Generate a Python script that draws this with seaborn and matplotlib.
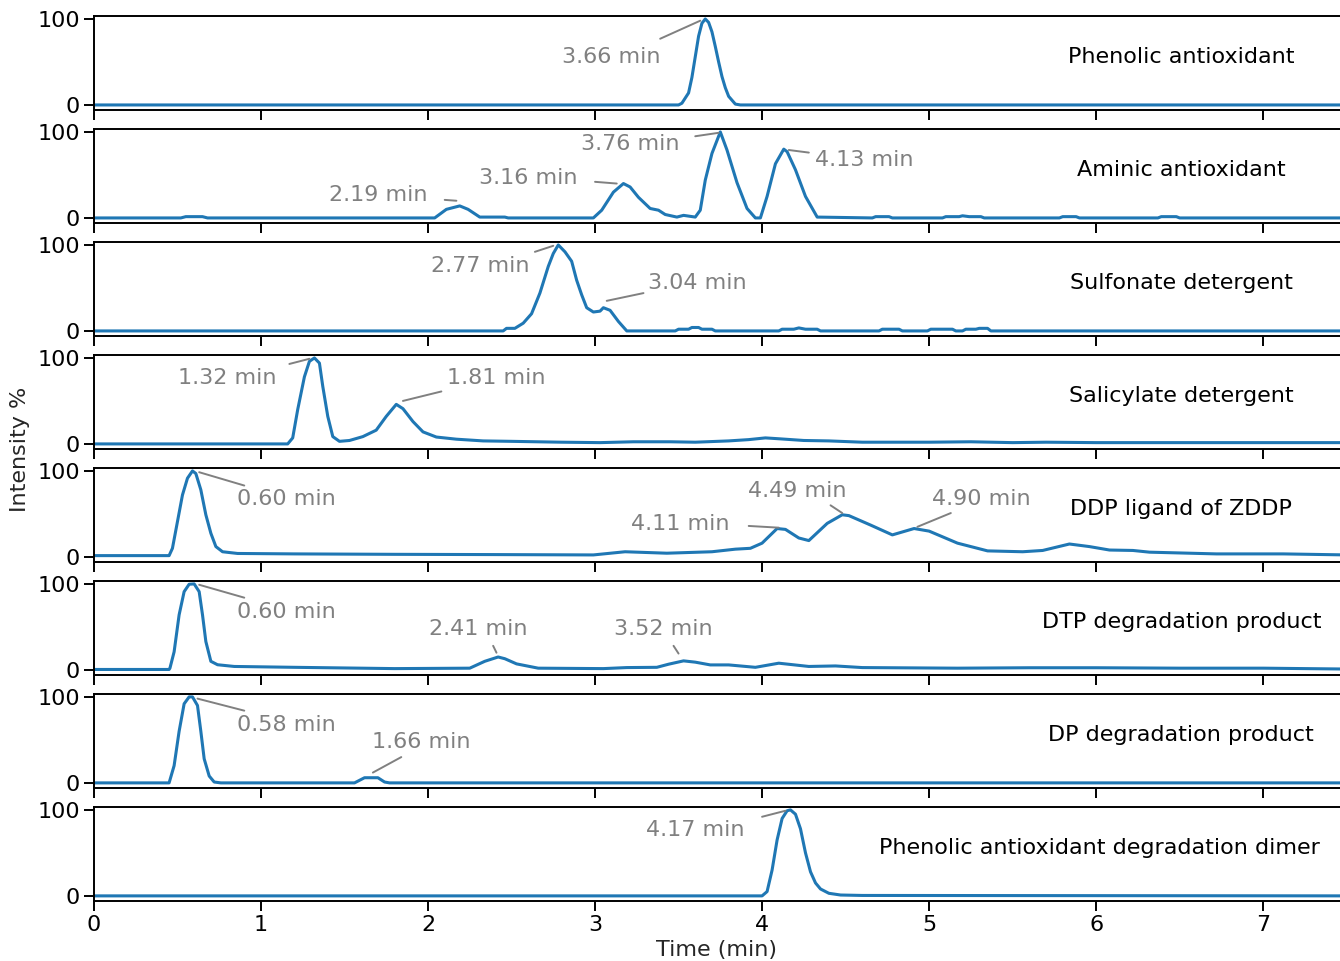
import matplotlib
matplotlib.use('Agg')
import matplotlib.pyplot as plt
import seaborn as sns
import pandas as pd

# compound names, one panel each
names = ['Phenolic antioxidant', 'Aminic antioxidant', 'Sulfonate detergent',
         'Salicylate detergent', 'DDP ligand of ZDDP', 'DTP degradation product',
         'DP degradation product', 'Phenolic antioxidant degradation dimer']

# chromatograms: time (min) and relative intensity (%)
t_phenolic = [0, 3.50, 3.52, 3.56, 3.58, 3.60, 3.62, 3.64, 3.66, 3.68, 3.70, 3.72, 3.74, 3.76,
              3.78, 3.80, 3.84, 3.87, 7.5]
i_phenolic = [0, 0, 2, 14, 32, 56, 80, 95, 100, 96, 85, 68, 50, 33,
              20, 10, 1, 0, 0]

t_aminic = [0, 0.52, 0.55, 0.65, 0.68, 2.04, 2.11, 2.19, 2.24, 2.31, 2.46, 2.48, 2.99, 3.04,
            3.11, 3.17, 3.21, 3.26, 3.33, 3.38, 3.42, 3.49, 3.53, 3.60, 3.63, 3.66, 3.70, 3.75,
            3.79, 3.85, 3.91, 3.96, 3.99, 4.03, 4.08, 4.13, 4.15, 4.20, 4.26, 4.33, 4.66, 4.68,
            4.76, 4.78, 5.08, 5.10, 5.18, 5.20, 5.24, 5.31, 5.33, 5.78, 5.80, 5.88, 5.90, 6.37,
            6.39, 6.48, 6.50, 7.5]
i_aminic = [0, 0, 1.5, 1.5, 0, 0, 10, 14, 10, 1, 1, 0, 0, 9,
            30, 40, 36, 24, 11, 9, 4, 1, 3, 1, 9, 44, 75, 100,
            79, 41, 11, 0, 0, 25, 63, 80, 77, 56, 25, 1, 0, 1.5,
            1.5, 0, 0, 1.5, 1.5, 2.5, 1.5, 1.5, 0, 0, 1.5, 1.5, 0, 0,
            1.5, 1.5, 0, 0]

t_sulfonate = [0, 2.45, 2.47, 2.52, 2.57, 2.62, 2.67, 2.72, 2.75, 2.78, 2.82, 2.86, 2.89, 2.92,
               2.95, 2.99, 3.03, 3.05, 3.09, 3.14, 3.19, 3.48, 3.50, 3.56, 3.58, 3.62, 3.64, 3.70,
               3.72, 4.10, 4.12, 4.19, 4.22, 4.26, 4.33, 4.35, 4.70, 4.72, 4.82, 4.84, 4.99, 5.01,
               5.14, 5.16, 5.20, 5.22, 5.28, 5.30, 5.35, 5.37, 7.5]
i_sulfonate = [0, 0, 3, 3, 9, 20, 44, 75, 90, 100, 92, 81, 59, 42,
               27, 22, 23, 27, 24, 11, 0, 0, 2, 2, 4, 4, 2, 2,
               0, 0, 2, 2, 3.5, 2, 2, 0, 0, 2, 2, 0, 0, 2,
               2, 0, 0, 2, 2, 3, 3, 0, 0]

t_salicylate = [0, 1.16, 1.19, 1.22, 1.26, 1.29, 1.32, 1.35, 1.37, 1.40, 1.43, 1.47, 1.53, 1.61,
                1.69, 1.75, 1.81, 1.85, 1.91, 1.97, 2.05, 2.17, 2.33, 2.50, 2.80, 3.03, 3.23, 3.45,
                3.60, 3.80, 3.92, 4.02, 4.10, 4.25, 4.40, 4.60, 5.00, 5.25, 5.50, 5.70, 6.00, 6.50,
                7.00, 7.5]
i_salicylate = [0, 0, 7, 40, 78, 96, 100, 94, 67, 32, 8.5, 3, 4, 8.5,
                16, 32, 46, 41, 26, 14, 8, 5.5, 3.5, 3, 2, 1.5, 2.5, 2.5,
                2, 3.5, 5, 7, 6, 4, 3.5, 2, 2, 2.5, 1.5, 2, 1.5, 1.5,
                1.5, 1.5]

t_ddp = [0, 0.45, 0.47, 0.50, 0.53, 0.56, 0.59, 0.61, 0.64, 0.67, 0.70, 0.73, 0.77, 0.86,
         1.20, 1.80, 2.40, 2.99, 3.18, 3.43, 3.70, 3.84, 3.93, 4.00, 4.09, 4.14, 4.22, 4.28,
         4.39, 4.48, 4.52, 4.65, 4.78, 4.91, 5.00, 5.17, 5.35, 5.56, 5.68, 5.84, 5.96, 6.08,
         6.22, 6.32, 6.72, 7.12, 7.5]
i_ddp = [1.5, 1.5, 10, 41, 72, 91.5, 100, 97, 78, 49, 27.5, 12, 6, 4,
         3.5, 3, 2.7, 2.3, 6, 4.3, 6, 9, 10, 16, 33, 32, 22, 19,
         39, 49, 48, 37, 25.6, 33, 30, 16, 7, 6, 7.5, 15, 12, 8,
         7.5, 5.5, 3.5, 3.5, 2.3]

t_dtp = [0, 0.45, 0.455, 0.48, 0.51, 0.54, 0.57, 0.60, 0.63, 0.65, 0.67, 0.70, 0.74, 0.84,
         1.20, 1.80, 2.25, 2.34, 2.42, 2.46, 2.53, 2.66, 3.05, 3.19, 3.37, 3.44, 3.53, 3.60,
         3.69, 3.80, 3.96, 4.10, 4.28, 4.44, 4.60, 5.17, 5.60, 6.00, 6.50, 7.00, 7.5]
i_dtp = [0.5, 0.5, 2, 21, 64, 91, 99.6, 100, 91, 64, 33, 10, 6, 4,
         3, 1.5, 2, 10, 15, 13, 7, 2, 1.5, 2.7, 3, 6.6, 10.5, 9,
         5.8, 5.8, 3, 7.8, 4, 4.6, 2.7, 2, 2.5, 2.5, 2, 2, 1]

t_dp = [0, 0.45, 0.48, 0.51, 0.54, 0.57, 0.59, 0.62, 0.64, 0.66, 0.69, 0.72, 0.76, 1.56,
        1.60, 1.62, 1.70, 1.74, 1.77, 7.5]
i_dp = [0, 0, 20, 60, 92, 100, 100, 90, 60, 28, 8, 1, 0, 0,
        4, 6, 6, 1, 0, 0]

t_dimer = [0, 4.00, 4.03, 4.06, 4.09, 4.12, 4.15, 4.17, 4.20, 4.23, 4.26, 4.29, 4.32, 4.35,
           4.40, 4.47, 4.60, 7.5]
i_dimer = [0, 0, 5, 30, 65, 90, 99, 100, 95, 78, 50, 28, 15, 8,
           3, 1, 0.5, 0]

times = [t_phenolic, t_aminic, t_sulfonate, t_salicylate, t_ddp, t_dtp, t_dp, t_dimer]
intens = [i_phenolic, i_aminic, i_sulfonate, i_salicylate, i_ddp, i_dtp, i_dp, i_dimer]

# peak labels: text, text position, leader line start, leader line end
peaks = [
    [('3.66 min', 3.10, 56, 3.39, 77, 3.63, 98)],
    [('2.19 min', 1.70, 27, 2.10, 21, 2.17, 20), ('3.16 min', 2.60, 46, 3.00, 42, 3.13, 40),
     ('3.76 min', 3.21, 86, 3.60, 95, 3.74, 99), ('4.13 min', 4.61, 67, 4.28, 76, 4.16, 79)],
    [('2.77 min', 2.31, 76, 2.64, 92, 2.75, 99), ('3.04 min', 3.61, 56, 3.29, 44, 3.07, 35)],
    [('1.32 min', 0.80, 77, 1.17, 93, 1.29, 99), ('1.81 min', 2.41, 77, 2.08, 61, 1.85, 50)],
    [('0.60 min', 1.15, 67, 0.90, 83, 0.63, 98.5), ('4.11 min', 3.51, 38, 3.92, 36, 4.10, 34),
     ('4.49 min', 4.21, 77, 4.41, 60, 4.48, 51), ('4.90 min', 5.31, 67, 5.13, 51, 4.93, 35)],
    [('0.60 min', 1.15, 67, 0.90, 84, 0.63, 99), ('2.41 min', 2.30, 47, 2.39, 28, 2.41, 20),
     ('3.52 min', 3.41, 47, 3.47, 28, 3.50, 19)],
    [('0.58 min', 1.15, 67, 0.90, 84, 0.62, 98), ('1.66 min', 1.96, 47, 1.84, 30, 1.67, 12)],
    [('4.17 min', 3.60, 77, 4.00, 92, 4.14, 99)],
]
name_x = [6.51, 6.51, 6.51, 6.51, 6.51, 6.51, 6.51, 6.02]

sns.set_style('ticks')
plt.rcParams['font.family'] = ['DejaVu Sans']
plt.rcParams['axes.linewidth'] = 1.4

fig, axes = plt.subplots(8, 1, figsize=(13.4, 9.61), dpi=100, sharex=True)
fig.subplots_adjust(left=0.0701, right=1.0, top=0.9834, bottom=0.0624, hspace=0.2)

for k, ax in enumerate(axes):
    df = pd.DataFrame({'time': times[k], 'intensity': intens[k]})
    sns.lineplot(data=df, x='time', y='intensity', ax=ax, color='#1f77b4', linewidth=2.2)
    ax.set_xlim(0, 7.46)
    ax.set_ylim(-6, 103.5)
    ax.set_yticks([0, 100])
    ax.set_xticks(range(8))
    ax.set_xlabel('')
    ax.set_ylabel('')
    ax.spines['right'].set_visible(False)
    for s in ['left', 'top', 'bottom']:
        ax.spines[s].set_color('black')
        ax.spines[s].set_linewidth(1.4)
    ax.tick_params(axis='both', direction='out', length=7, width=1.4, labelsize=16,
                   colors='black', pad=3)
    ax.text(name_x[k], 56, names[k], ha='center', va='center', fontsize=16, color='black')
    for lab, tx, ty, x0, y0, x1, y1 in peaks[k]:
        ax.text(tx, ty, lab, ha='center', va='center', fontsize=16, color='grey')
        ax.annotate('', xy=(x1, y1), xytext=(x0, y0),
                    arrowprops=dict(arrowstyle='-', color='grey', lw=1.4,
                                    shrinkA=0, shrinkB=0))

axes[-1].set_xlabel('Time (min)', fontsize=16, labelpad=4)
fig.text(0.015, 0.532, 'Intensity %', rotation=90, ha='center', va='center', fontsize=16)

fig.savefig('out.png', dpi=100)
